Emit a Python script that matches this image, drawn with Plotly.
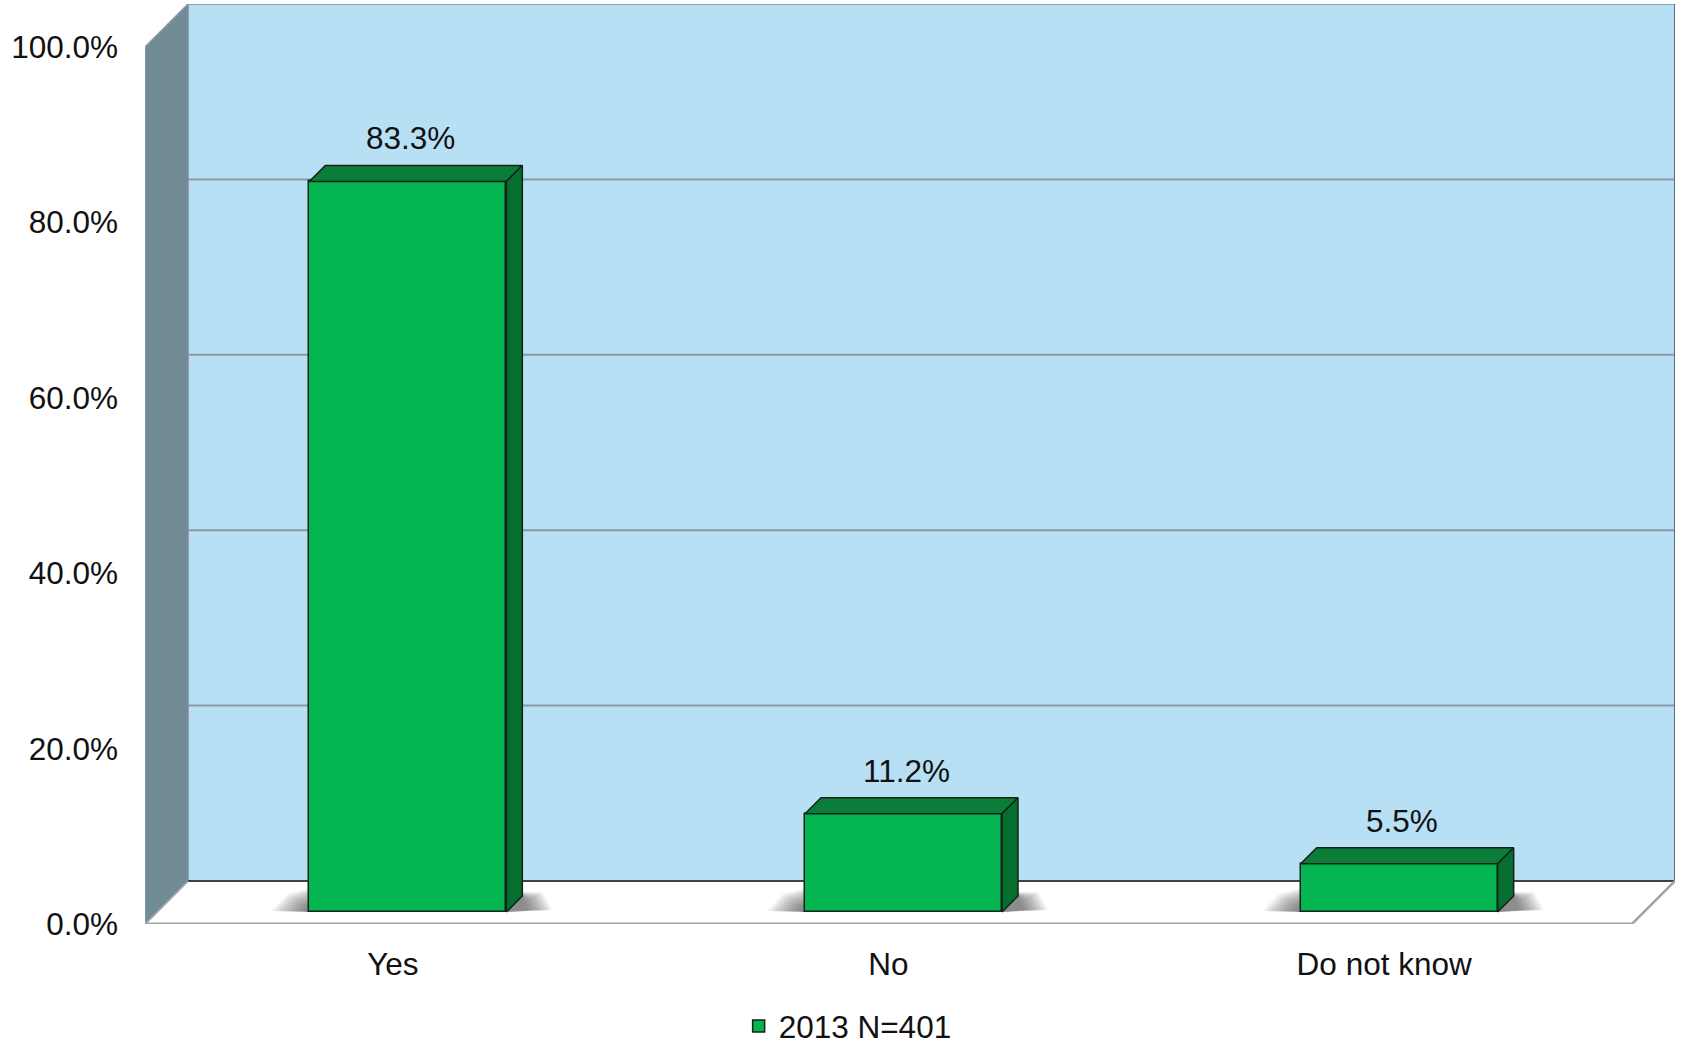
import plotly.graph_objects as go

# ---------------- data ----------------
categories = ["Yes", "No", "Do not know"]
values = [83.3, 11.2, 5.5]
series_name = "2013 N=401"
y_tick_values = [0, 20, 40, 60, 80, 100]
y_tick_labels = ["0.0%", "20.0%", "40.0%", "60.0%", "80.0%", "100.0%"]
gridline_values = [20, 40, 60, 80]

# ---------------- layout geometry ----------------
W, H = 1681, 1044
ML, MR, MT, MB = 145, 6, 4, 120
DEPTH = 43          # px depth of the 3D box
BAR_OFF = 12        # px from front plane to bar front face
BAR_SHIFT = 3       # small extra horizontal shift of bars (px)
BAR_DEPTH = 16      # px depth of the bars
BAR_W = 197         # px bar width
FONT = "Arial, 'Liberation Sans', sans-serif"
FS = 31.5

plot_w = W - ML - MR
plot_h = H - MT - MB
n = len(categories)
PX_X = (plot_w - DEPTH) / n
PX_Y = (plot_h - DEPTH) / 100.0


def ux(p):
    return p / PX_X


def uy(p):
    return p / PX_Y


x0, x1 = -0.5, n - 0.5
bx, by = ux(DEPTH), uy(DEPTH)

C_FRONT = "#04b552"
C_TOP = "#0a7d39"
C_SIDE = "#066f30"
C_EDGE = "#14221a"

shapes = []
# floor
shapes.append(dict(type="path", xref="x", yref="y", layer="below",
                   path=f"M{x0},0 L{x1},0 L{x1+bx},{by} L{x0+bx},{by} Z",
                   fillcolor="white", line=dict(width=0)))
# side wall
shapes.append(dict(type="path", xref="x", yref="y", layer="below",
                   path=f"M{x0},0 L{x0},100 L{x0+bx},{100+by} L{x0+bx},{by} Z",
                   fillcolor="#718b97", line=dict(color="#8d9ba4", width=1.5)))
# back wall
shapes.append(dict(type="rect", xref="x", yref="y", layer="below",
                   x0=x0 + bx, x1=x1 + bx, y0=by, y1=100 + by,
                   fillcolor="#b8e0f4", line=dict(color="#7f8a92", width=1.5)))
# gridlines on back wall
for g in gridline_values:
    shapes.append(dict(type="line", xref="x", yref="y", layer="below",
                       x0=x0 + bx, x1=x1 + bx, y0=g + by, y1=g + by,
                       line=dict(color="#8c99a3", width=2)))
# back wall bottom / right edges (dark)
shapes.append(dict(type="line", xref="x", yref="y", layer="below",
                   x0=x0 + bx, x1=x1 + bx, y0=by, y1=by,
                   line=dict(color="#3c4248", width=1.8)))
shapes.append(dict(type="line", xref="x", yref="y", layer="below",
                   x0=x1 + bx, x1=x1 + bx, y0=by, y1=100 + by,
                   line=dict(color="#50585e", width=1.5)))
# floor front and right edges
shapes.append(dict(type="line", xref="x", yref="y", layer="below",
                   x0=x0, x1=x1, y0=0, y1=0,
                   line=dict(color="#a3a3a3", width=3)))
shapes.append(dict(type="line", xref="x", yref="y", layer="below",
                   x0=x1, x1=x1 + bx, y0=0, y1=by,
                   line=dict(color="#a3a3a3", width=2.5)))
shapes.append(dict(type="line", xref="x", yref="y", layer="below",
                   x0=x0, x1=x0 + bx, y0=0, y1=by,
                   line=dict(color="#9aa3a8", width=1.5)))

# soft shadows at bar bases
b = uy(BAR_OFF)
N_SH = 14
for i, v in enumerate(values):
    xc = i + ux(BAR_OFF + BAR_SHIFT)
    xl = xc - ux(BAR_W / 2)
    xr = xc + ux(BAR_W / 2)
    for k in range(N_SH):
        f = (k + 1) / N_SH
        # left shadow
        shapes.append(dict(type="path", xref="x", yref="y", layer="below",
                           path=(f"M{xl-ux(4+34*f)},{b+uy(1)} L{xl},{b} "
                                 f"L{xl},{b+uy(6+18*f)} L{xl-ux(2+20*f)},{b+uy(4+14*f)} Z"),
                           fillcolor="#303030", opacity=0.055, line=dict(width=0)))
        # right shadow
        shapes.append(dict(type="path", xref="x", yref="y", layer="below",
                           path=(f"M{xr},{b} L{xr+ux(BAR_DEPTH+4+26*f)},{b+uy(2)} "
                                 f"L{xr+ux(BAR_DEPTH+2+18*f)},{b+uy(8+12*f)} "
                                 f"L{xr+ux(BAR_DEPTH)},{b+uy(BAR_DEPTH+4*f)} L{xr},{b+uy(10)} Z"),
                           fillcolor="#303030", opacity=0.055, line=dict(width=0)))

fig = go.Figure()

# bar front faces
fig.add_trace(go.Bar(
    x=[i + ux(BAR_OFF + BAR_SHIFT) for i in range(n)], y=values, base=uy(BAR_OFF),
    width=ux(BAR_W), name=series_name,
    marker=dict(color=C_FRONT, line=dict(color=C_EDGE, width=1.5)),
    hoverinfo="skip", showlegend=True))

# bar top and side faces
for i, v in enumerate(values):
    xc = i + ux(BAR_OFF + BAR_SHIFT)
    xl = xc - ux(BAR_W / 2)
    xr = xc + ux(BAR_W / 2)
    t = v + uy(BAR_OFF)
    bb = uy(BAR_OFF)
    ddx, ddy = ux(BAR_DEPTH), uy(BAR_DEPTH)
    fig.add_trace(go.Scatter(
        x=[xl, xr, xr + ddx, xl + ddx, xl], y=[t, t, t + ddy, t + ddy, t],
        mode="lines", fill="toself", fillcolor=C_TOP,
        line=dict(color=C_EDGE, width=1.5), showlegend=False, hoverinfo="skip",
        cliponaxis=False))
    fig.add_trace(go.Scatter(
        x=[xr, xr + ddx, xr + ddx, xr, xr], y=[bb, bb + ddy, t + ddy, t, bb],
        mode="lines", fill="toself", fillcolor=C_SIDE,
        line=dict(color=C_EDGE, width=1.5), showlegend=False, hoverinfo="skip",
        cliponaxis=False))

annotations = []
for i, v in enumerate(values):
    annotations.append(dict(
        x=i + ux(BAR_OFF + BAR_SHIFT + 3), y=v, xref="x", yref="y",
        text=f"{v:.1f}%", showarrow=False, yanchor="middle", xanchor="center",
        yshift=55, font=dict(family=FONT, size=FS, color="#111111")))

fig.update_layout(
    width=W, height=H,
    margin=dict(l=ML, r=MR, t=MT, b=MB, pad=0, autoexpand=False),
    paper_bgcolor="white", plot_bgcolor="rgba(0,0,0,0)",
    font=dict(family=FONT, size=FS, color="#111111"),
    shapes=shapes, annotations=annotations,
    bargap=0,
    showlegend=True,
    legend=dict(orientation="h", x=0.388, y=-0.111, xanchor="left", yanchor="middle",
                font=dict(family=FONT, size=FS, color="#111111"),
                bgcolor="rgba(0,0,0,0)", itemwidth=30, traceorder="normal"),
    xaxis=dict(range=[x0, x1 + bx], tickvals=list(range(n)), ticktext=categories,
               showgrid=False, zeroline=False, showline=False, ticks="",
               ticklabelstandoff=18, fixedrange=True, automargin=False),
    yaxis=dict(range=[0, 100 + by], tickvals=y_tick_values, ticktext=y_tick_labels,
               showgrid=False, zeroline=False, showline=False, ticks="",
               ticklabelstandoff=26, fixedrange=True, automargin=False),
)

fig.write_html(
    "out.html",
    config={"responsive": False, "displayModeBar": False},
    post_script="document.body.style.margin='0px';document.body.style.overflow='hidden';",
)
